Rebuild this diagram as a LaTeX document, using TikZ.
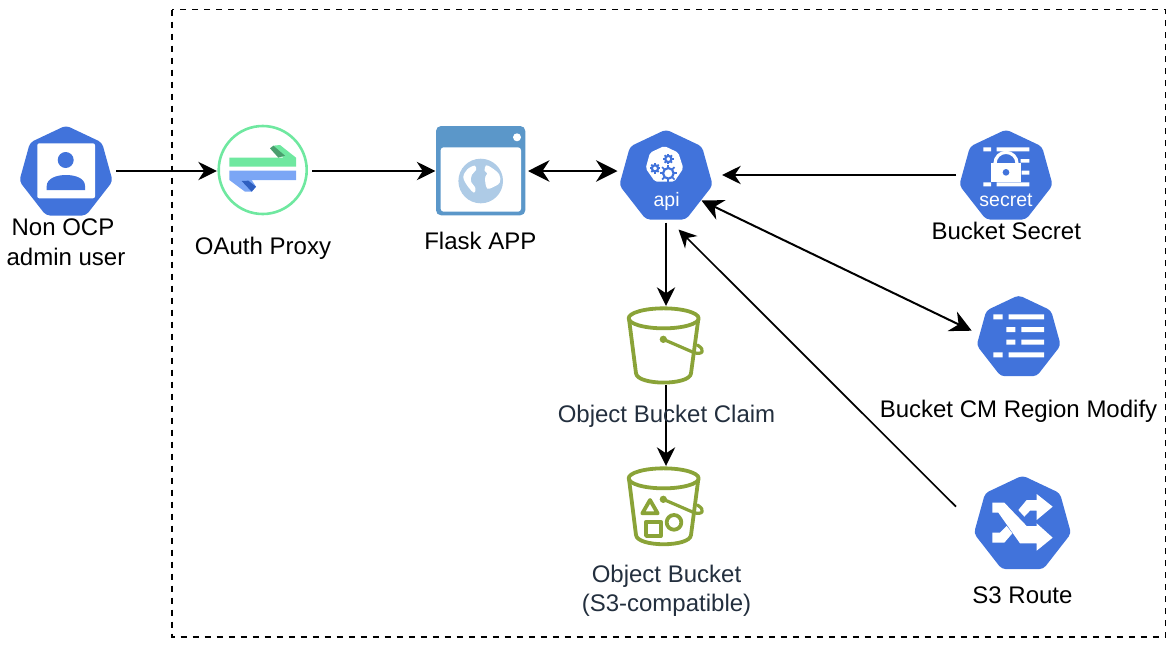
\documentclass[tikz,border=0pt]{standalone}
\usepackage{fontspec}
\setmainfont{Liberation Sans}
\usetikzlibrary{arrows.meta,calc}
\definecolor{kube}{HTML}{4173DB}
\definecolor{awsgreen}{HTML}{8AA338}
\definecolor{awstext}{HTML}{232F3E}
\definecolor{flaskblue}{HTML}{5B97C9}
\definecolor{globeblue}{HTML}{AECBE6}
\definecolor{oagreen}{HTML}{6FE8A0}
\definecolor{oagreend}{HTML}{4A9E6E}
\definecolor{oablue}{HTML}{7BA6F5}
\definecolor{oablued}{HTML}{2F5FC0}
\tikzset{
  iconbox/.style={inner sep=0pt,outer sep=0pt,draw=none},
  lbl/.style={inner sep=0pt,anchor=base,font=\fontsize{24}{24}\selectfont,text=black},
  awslbl/.style={inner sep=0pt,anchor=base,font=\fontsize{24}{24}\selectfont,text=awstext},
  inlbl/.style={inner sep=0pt,anchor=base,font=\fontsize{19.5}{19}\selectfont,text=white},
  conn/.style={line width=2pt,draw=black,-{Stealth[length=18.7pt,width=18.3pt,inset=6pt]}},
  connboth/.style={line width=2pt,draw=black,{Stealth[length=21.5pt,width=21.5pt,inset=7pt]}-{Stealth[length=21.5pt,width=21.5pt,inset=7pt]}},
  connthin/.style={line width=1.7pt,draw=black,-{Stealth[length=18pt,width=17.5pt,inset=6pt]}},
  bucketline/.style={draw=awsgreen,line width=3.8pt,line join=round,line cap=round},
  kubefill/.style={fill=kube,rounded corners=4pt},
}
\newcommand{\kubehept}[3]{% centre x, top y, scale
  \begin{scope}[shift={(#1,#2)},scale=#3]
    \fill[kubefill] (0,0) -- (36,17) -- (46.7,55.7) -- (20,90) -- (-20,90) -- (-46.7,55.7) -- (-36,17) -- cycle;
  \end{scope}}
\newcommand{\gearicon}[3]{% x y r in zoom units
  \foreach \a in {0,45,...,315}{
    \draw[kube,line width=1.7pt] ($(#1,#2)+(\a:#3*0.7)$) -- ($(#1,#2)+(\a:#3*1.2)$);
  }
  \draw[kube,line width=2.2pt,fill=white] (#1,#2) circle[radius=#3*0.72];
}
\begin{document}
\begin{tikzpicture}[x=1pt,y=-1pt]
\useasboundingbox (0,0) rectangle (1172,646);
\draw[black,line width=1.9pt,dash pattern=on 6pt off 6pt] (172,9.5) rectangle (1165.5,637);

% ---- connector anchors (invisible icon frames)
\node[iconbox,minimum width=100pt,minimum height=90pt] (user) at (66,171) {};
\node[iconbox,minimum width=95pt,minimum height=90pt] (oauth) at (264.5,171) {};
\node[iconbox,minimum width=92.5pt,minimum height=90pt] (flask) at (481.75,171) {};
\node[iconbox,minimum width=104.5pt,minimum height=90pt] (api) at (669.75,171) {};
\node[iconbox,minimum width=100pt,minimum height=90pt] (secret) at (1006,175) {};
\node[iconbox,minimum width=84pt,minimum height=81pt] (cm) at (1018.7,336) {};
\node[iconbox,minimum width=97pt,minimum height=94pt] (route) at (1022.7,523) {};
\node[iconbox,minimum width=80pt,minimum height=79pt] (claim) at (666,345.5) {};
\node[iconbox,minimum width=80pt,minimum height=80pt] (bucket) at (666,506) {};
\coordinate (apiS) at (666,222.5);
\coordinate (apiSE) at (701.5,200.5);
\coordinate (apiSR) at (678.5,229.5);
\coordinate (cmW) at (971.7,330.7);
\coordinate (routeNW) at (956,506.7);

% ---- Heptagons
\kubehept{66}{125.5}{1}
\kubehept{666}{129.5}{1}
\kubehept{1006}{129.5}{1}
\kubehept{1018.7}{295.2}{0.9}
\kubehept{1022.5}{475.5}{1.04}

% ---- user icon
\fill[white,rounded corners=2pt] (37.3,143.3) rectangle (95,198.3);
\fill[kube] (65.7,160) circle[radius=8];
\fill[kube] (46.7,190) -- (46.7,186) .. controls (47,178) and (57,175) .. (66,175) .. controls (75,175) and (85,178) .. (85,186) -- (85,190) -- cycle;

% ---- oauth icon
\draw[oagreen,line width=2.6pt] (262.7,170) circle[radius=44];
\begin{scope}[shift={(220,135)},scale=1/3]
  \fill[oagreen] (160,32) -- (180,30) -- (228,68) -- (228,95) -- (28,95) -- (28,68) -- (190,68) -- cycle;
  \fill[oagreend] (150,40) -- (160,32) -- (195,62) -- (175,68) -- cycle;
  \fill[oablue] (28,107) -- (228,107) -- (228,135) -- (95,135) -- (108,155) -- (95,170) -- (75,170) -- (28,135) -- cycle;
  \fill[oablued] (65,138) -- (85,137) -- (108,155) -- (95,170) -- cycle;
\end{scope}

% ---- flask icon
\fill[flaskblue,rounded corners=5pt] (436,126) rectangle (525.3,215.3);
\fill[white,rounded corners=3pt] (440.7,147.3) rectangle (521,211.7);
\fill[white] (517,137.3) circle[radius=4];
\fill[globeblue] (480.7,181) circle[radius=22.3];
\begin{scope}[shift={(450,150)},scale=1/3]
  \fill[white] plot[smooth cycle,tension=.6] coordinates {(40,82) (52,58) (74,47) (78,60) (66,74) (63,94) (76,114) (72,128) (54,110)};
  \fill[white] plot[smooth cycle,tension=.6] coordinates {(108,46) (126,54) (148,74) (149,98) (128,112) (112,116) (106,98) (106,80) (112,70) (104,62)};
\end{scope}

% ---- api icon
\begin{scope}[shift={(635,140)},scale=1/3]
  \fill[white,rounded corners=2pt] (88,18) -- (130,38) -- (145,85) -- (118,125) -- (60,125) -- (32,85) -- (45,38) -- cycle;
  \gearicon{100}{100}{22}
  \gearicon{60}{85}{13}
  \gearicon{100}{57}{13}
\end{scope}
\node[inlbl] (apitext) at (666.6,206.7) {api};

% ---- secret icon
\begin{scope}[shift={(930,120)},scale=1/3]
  \fill[white] (160,82) rectangle (183,94) (200,82) rectangle (298,94)
    (272,117) rectangle (298,128) (275,152) rectangle (298,164)
    (160,187) rectangle (183,199) (200,187) rectangle (298,199);
  \draw[white,line width=3.2pt] (195,130) arc[start angle=180,end angle=360,radius=33];
  \fill[white] (183,130) rectangle (272,187);
  \fill[kube] (228,157) circle[radius=10];
\end{scope}
\node[inlbl] (secrettext) at (1006,206.7) {secret};

% ---- configmap icon
\begin{scope}[shift={(930,285)},scale=1/3]
  \fill[white] (190,88) rectangle (218,103) (236,88) rectangle (342,103)
    (229,126) rectangle (256,141) (274,126) rectangle (342,141)
    (229,164) rectangle (256,179) (274,164) rectangle (342,179)
    (190,202) rectangle (218,217) (236,202) rectangle (342,217);
\end{scope}

% ---- route icon
\begin{scope}[shift={(985,490)},scale=1/3]
  \fill[white] (22,38) -- (58,38) -- (125,108) -- (155,108) -- (155,100) -- (203,143) -- (155,182) -- (155,160) -- (105,160) -- (40,68) -- (22,68) -- cycle;
  \fill[white] (155,12) -- (203,50) -- (155,90) -- (155,62) -- (135,62) -- (118,80) -- (100,60) -- (125,30) -- (155,30) -- cycle;
  \fill[white] (22,128) -- (45,128) -- (65,108) -- (82,130) -- (58,158) -- (22,158) -- cycle;
\end{scope}

% ---- bucket claim icon
\begin{scope}[shift={(610,295)},scale=1/3]
  \draw[bucketline] (161,70) ellipse[x radius=105,y radius=30];
  \draw[bucketline] (57,72) -- (78,235) .. controls (82,272) and (240,272) .. (243,235) -- (265,72);
  \fill[awsgreen] (160,133) circle[radius=11];
  \draw[bucketline,line width=3.2pt] (160,133) -- (250,172) .. controls (278,182) and (288,165) .. (262,150);
\end{scope}

% ---- object bucket icon
\begin{scope}[shift={(610,450)},scale=1/3]
  \draw[bucketline] (161,85) ellipse[x radius=105,y radius=30];
  \draw[bucketline] (57,87) -- (78,255) .. controls (82,292) and (240,292) .. (243,255) -- (265,87);
  \fill[awsgreen] (160,148) circle[radius=11];
  \draw[bucketline,line width=3.2pt] (160,148) -- (250,187) .. controls (278,197) and (288,180) .. (262,165);
  \draw[bucketline] (120,150) -- (97,190) -- (143,190) -- cycle;
  \draw[bucketline] (108,215) rectangle (152,258);
  \draw[bucketline] (192,217) circle[radius=22];
\end{scope}

% ---- connectors
\draw[conn] (user.east) -- (oauth.west);
\draw[conn] (oauth.east) -- (flask.west);
\draw[connboth] (flask.east) -- (api.west);
\draw[conn] (secret.west) -- (secret.west -| api.east);
\draw[connboth] (apiSE) -- (cmW);
\draw[connthin] (routeNW) -- (apiSR);
\draw[conn] (apiS) -- (claim.north);
\draw[conn] (claim.south) -- (bucket.north);

% ---- labels
\node[lbl] (l1a) at (63,235) {Non OCP};
\node[lbl] (l1b) at (66,265) {admin user};
\node[lbl] (l2) at (263,254) {OAuth Proxy};
\node[lbl] (l3) at (480.3,249) {Flask APP};
\node[lbl] (l4) at (1006.3,239.5) {Bucket Secret};
\node[lbl] (l5) at (1018.5,417) {Bucket CM Region Modify};
\node[lbl] (l6) at (1022.5,603) {S3 Route};
\node[awslbl] (l7) at (666.5,422) {Object Bucket Claim};
\node[awslbl] (l8a) at (666.5,582) {Object Bucket};
\node[awslbl] (l8b) at (666.5,611) {(S3-compatible)};
\end{tikzpicture}
\end{document}
